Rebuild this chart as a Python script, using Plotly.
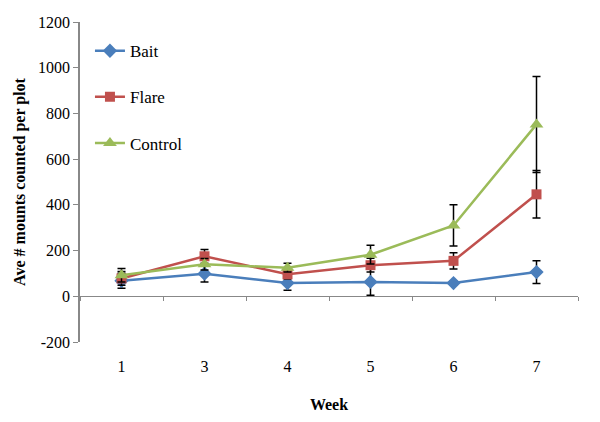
import plotly.graph_objects as go

weeks = ["1", "3", "4", "5", "6", "7"]
bait = [68, 99, 58, 63, 58, 106]
bait_err = [33, 36, 32, 59, 8, 50]
flare = [78, 175, 96, 136, 155, 446]
flare_err = [30, 30, 20, 30, 36, 104]
control = [92, 140, 125, 182, 310, 752]
control_err = [30, 25, 19, 41, 90, 210]

y_ticks = [-200, 0, 200, 400, 600, 800, 1000, 1200]
y_tick_labels = ["-200", "0", "200", "400", "600", "800", "1000", "1200"]

series = [
    ("Bait", bait, bait_err, "#4A7EBB", "diamond", 11),
    ("Flare", flare, flare_err, "#C0504D", "square", 10),
    ("Control", control, control_err, "#9BBB59", "triangle-up", 12),
]

FONT = "Liberation Serif, Times New Roman, serif"
f16 = dict(family=FONT, size=16, color="black")

fig = go.Figure()
for name, vals, errs, col, sym, sz in series:
    fig.add_trace(go.Scatter(
        x=weeks, y=vals, name=name, mode="lines+markers",
        line=dict(color=col, width=2.5),
        marker=dict(symbol=sym, size=sz, color=col),
        error_y=dict(type="data", array=errs, visible=True,
                     color="black", thickness=1.5, width=4),
        legendgroup=name,
    ))

fig.add_trace(go.Scatter(x=weeks, y=[None] * len(weeks), xaxis="x2",
                         showlegend=False, hoverinfo="skip"))

ymin, ymax = -200, 1200
# the page body adds an 8px offset, so margins are shifted by 8px
fig.update_layout(
    width=600, height=422,
    margin=dict(l=72, r=30, t=14, b=88, autoexpand=False),
    paper_bgcolor="white", plot_bgcolor="white",
    font=f16,
    showlegend=True,
    legend=dict(x=0.02, y=0.965, xanchor="left", yanchor="top",
                bgcolor="rgba(0,0,0,0)", traceorder="grouped",
                tracegroupgap=21, font=dict(family=FONT, size=17, color="black"),
                itemwidth=30),
    xaxis=dict(type="category", categoryarray=weeks, range=[-0.5, 5.5],
               showline=False, showgrid=False, zeroline=False,
               ticks="", ticklabelstandoff=13, tickfont=f16,
               automargin=False,
               title=dict(text="<b>Week</b>", standoff=24, font=f16)),
    xaxis2=dict(type="category", categoryarray=weeks, range=[-0.5, 5.5],
                overlaying="x", anchor="free",
                position=(0 - ymin) / (ymax - ymin),
                showline=True, linecolor="#888888", linewidth=1,
                ticks="outside", tickson="boundaries", ticklen=4,
                tickcolor="#888888", showticklabels=False,
                showgrid=False, zeroline=False, automargin=False),
    yaxis=dict(range=[ymin, ymax], tickmode="array", tickvals=y_ticks,
               ticktext=y_tick_labels,
               showline=True, linecolor="#888888", linewidth=1.5,
               ticks="outside", ticklen=5, tickcolor="#888888",
               showgrid=False, zeroline=False, tickfont=f16,
               automargin=False,
               title=dict(text="<b>Ave # mounts counted per plot</b>",
                          standoff=8, font=f16)),
)

fig.write_html("out.html")
